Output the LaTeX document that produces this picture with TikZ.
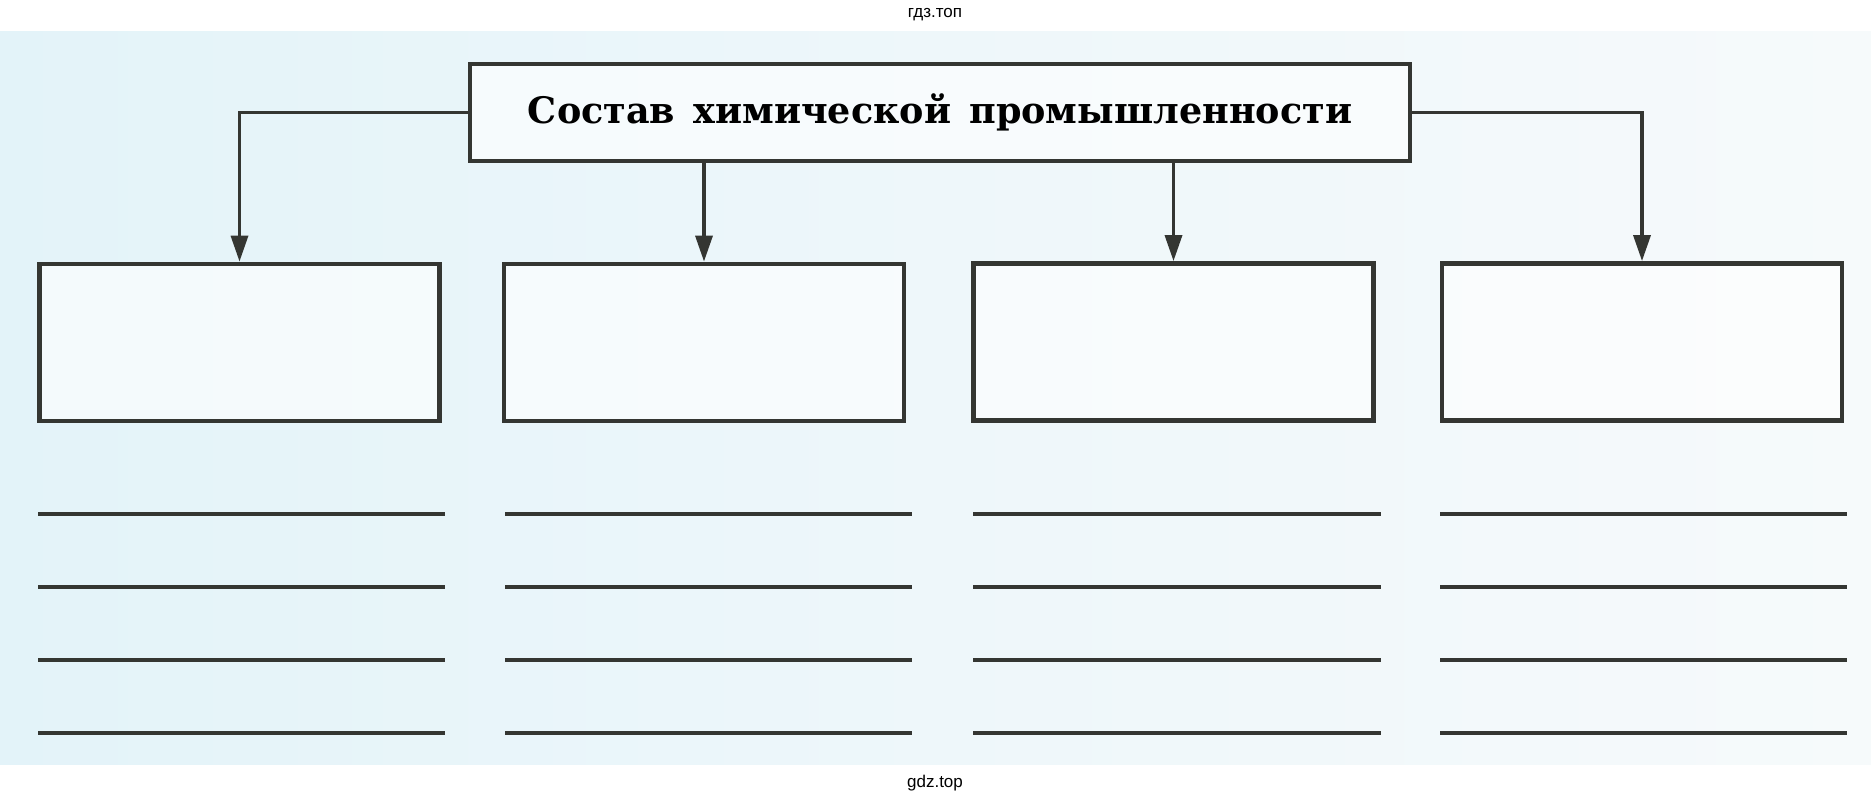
\documentclass[tikz,border=0pt]{standalone}
\usepackage{fontspec}
\setmainfont{DejaVu Serif}
\newfontfamily\wmfont{Liberation Sans}
\usetikzlibrary{arrows.meta}
\definecolor{ink}{HTML}{343632}
\definecolor{pageL}{HTML}{E3F3F9}
\definecolor{pageM}{HTML}{EEF7FA}
\definecolor{pageR}{HTML}{F6FAFB}
\tikzset{
  frame/.style={draw=ink, line width=4.8pt, fill=white, fill opacity=0.6, text opacity=1, inner sep=0pt},
  topbox/.style={frame, minimum width=940pt, minimum height=97pt},
  subbox/.style={frame, minimum width=400pt, minimum height=157pt},
  link/.style={draw=ink, line width=3.4pt, -{Triangle[length=26pt,width=17pt]}},
  rule/.style={draw=ink, line width=3.3pt},
  wm/.style={font=\wmfont\fontsize{17}{19}\selectfont, text=black}
}
\begin{document}
\begin{tikzpicture}[x=1pt,y=-1pt]
\useasboundingbox (0,0) rectangle (1871,802);
\fill[white] (0,0) rectangle (1871,802);
\shade[left color=pageL, right color=pageR, middle color=pageM] (0,32) rectangle (1871,764);
\node[wm] (wmtop) at (935,15) {гдз.топ};
\node[wm] (wmbot) at (935,783) {gdz.top};
\node[topbox] (top) at (940,112.5) {\fontsize{36.5}{40}\selectfont\bfseries Состав\hspace{0.5em}химической\hspace{0.5em}промышленности};
\node[subbox] (b1) at (239.5,342.5) {};
\node[subbox] (b2) at (704,342.5) {};
\node[subbox] (b3) at (1173.5,342) {};
\node[subbox] (b4) at (1642,342) {};
\draw[link] (top.west) -| (b1.north);
\draw[link] (top.south -| b2.north) -- (b2.north);
\draw[link] (top.south -| b3.north) -- (b3.north);
\draw[link] (top.east) -| (b4.north);
\foreach \y in {514,587,660,733}{
  \draw[rule] (38,\y) -- (445,\y);
  \draw[rule] (505,\y) -- (912,\y);
  \draw[rule] (973,\y) -- (1381,\y);
  \draw[rule] (1440,\y) -- (1847,\y);
}
\end{tikzpicture}
\end{document}
